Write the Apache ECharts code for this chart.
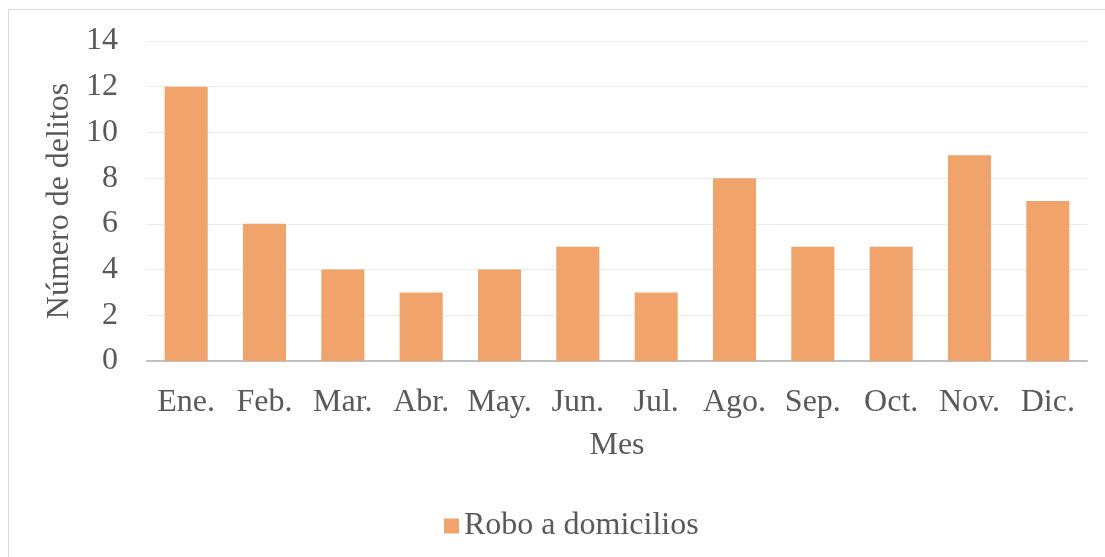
<!DOCTYPE html>
<html>
<head>
<meta charset="utf-8">
<script src="https://cdn.jsdelivr.net/npm/echarts@6/dist/echarts.min.js"></script>
<style>
  html, body { margin: 0; padding: 0; background: #fff; }
  #chart { width: 1105px; height: 557px; }
</style>
</head>
<body>
<div id="chart"></div>
<script>
// datos del gráfico
const meses = ['Ene.', 'Feb.', 'Mar.', 'Abr.', 'May.', 'Jun.', 'Jul.', 'Ago.', 'Sep.', 'Oct.', 'Nov.', 'Dic.'];
const robos = [12, 6, 4, 3, 4, 5, 3, 8, 5, 5, 9, 7];
const serieNombre = 'Robo a domicilios';

const fuente = '"Liberation Serif", "Times New Roman", serif';
const gris = '#595959';

let chart = echarts.init(document.getElementById('chart'));

chart.setOption({
  animation: false,
  textStyle: { fontFamily: fuente },
  graphic: [{
    type: 'rect',
    shape: { x: 8.5, y: 9.5, width: 1120, height: 570 },
    style: { fill: 'none', stroke: '#d9d9d9', lineWidth: 1 }
  }],
  grid: { left: 147, right: 18, top: 41, bottom: 196 },
  legend: {
    data: [serieNombre],
    left: 439,
    top: 505,
    icon: 'rect',
    itemWidth: 15,
    itemHeight: 15,
    itemGap: 8,
    textStyle: { fontFamily: fuente, fontSize: 32, color: gris }
  },
  xAxis: {
    type: 'category',
    data: meses,
    name: 'Mes',
    nameLocation: 'middle',
    nameGap: 69,
    nameTextStyle: { fontFamily: fuente, fontSize: 32, color: gris },
    axisLine: { lineStyle: { color: '#bfbfbf', width: 2 } },
    axisTick: { show: false },
    axisLabel: { fontFamily: fuente, fontSize: 32, color: gris, margin: 26, interval: 0 }
  },
  yAxis: {
    type: 'value',
    min: 0,
    max: 14,
    interval: 2,
    name: 'Número de delitos',
    nameLocation: 'middle',
    nameGap: 69,
    nameTextStyle: { fontFamily: fuente, fontSize: 32, color: gris },
    axisLine: { show: false },
    axisTick: { show: false },
    axisLabel: { fontFamily: fuente, fontSize: 32, color: gris, margin: 29 },
    splitLine: { lineStyle: { color: '#ebebeb', width: 1 } }
  },
  series: [{
    name: serieNombre,
    type: 'bar',
    data: robos,
    barWidth: '55%',
    itemStyle: { color: '#f0a46c' }
  }]
});
</script>
</body>
</html>
